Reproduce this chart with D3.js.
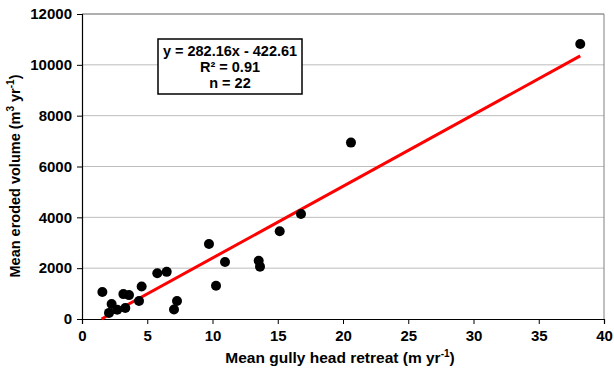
<!DOCTYPE html>
<html>
<head>
<meta charset="utf-8">
<script src="https://cdn.jsdelivr.net/npm/d3@7"></script>
<style>
  body { margin: 0; background: #fff; }
  svg text { font-family: Arial, "Liberation Sans", sans-serif; font-weight: bold; }
</style>
</head>
<body>
<div id="chart"></div>
<script>
// gully head retreat (m/yr) vs eroded volume (m3/yr)
var retreat = [1.56, 2.07, 2.27, 2.7, 3.17, 3.32, 3.6, 4.37, 4.57, 5.77, 6.49,
               7.05, 7.28, 9.73, 10.27, 10.96, 13.54, 13.64, 15.15, 16.78, 20.61, 38.18];
var volume  = [1060, 240, 590, 365, 980, 430, 940, 705, 1280, 1800, 1855,
               375, 705, 2950, 1305, 2245, 2295, 2060, 3450, 4130, 6940, 10820];
var xTicks = [0, 5, 10, 15, 20, 25, 30, 35, 40];
var yTicks = [0, 2000, 4000, 6000, 8000, 10000, 12000];
var slope = 282.16, intercept = -422.61;
var statLines = ["y = 282.16x - 422.61", "R² = 0.91", "n = 22"];

var W = 614, H = 373;
var margin = {top: 14, right: 10, bottom: 54, left: 82},
    width = W - margin.left - margin.right,
    height = H - margin.top - margin.bottom;

var svg = d3.select("#chart").append("svg")
    .attr("width", W)
    .attr("height", H)
    .append("g")
    .attr("transform", "translate(" + margin.left + "," + margin.top + ")");

var x = d3.scaleLinear().domain([0, 40]).range([0, width]);
var y = d3.scaleLinear().domain([0, 12000]).range([height, 0]);

// gridlines
svg.append("g").selectAll("line")
    .data(yTicks.slice(1))
    .enter().append("line")
    .attr("x1", 0).attr("x2", width)
    .attr("y1", function (d) { return y(d); })
    .attr("y2", function (d) { return y(d); })
    .attr("stroke", "#bdbdbd")
    .attr("stroke-width", 1);

// plot frame (top/right)
svg.append("path")
    .attr("d", "M0,0H" + width + "V" + height)
    .attr("fill", "none")
    .attr("stroke", "#808080")
    .attr("stroke-width", 1);

// axes
var xAxis = svg.append("g")
    .attr("transform", "translate(0," + height + ")")
    .call(d3.axisBottom(x).tickValues(xTicks).tickSize(5).tickPadding(6));
var yAxis = svg.append("g")
    .call(d3.axisLeft(y).tickValues(yTicks).tickSize(5).tickPadding(5).tickFormat(d3.format("d")));
[xAxis, yAxis].forEach(function (a) {
    a.select(".domain").attr("stroke", "#000").attr("stroke-width", 1.2);
    a.selectAll(".tick line").attr("stroke", "#000");
    a.selectAll("text")
        .attr("fill", "#000")
        .style("font-size", "15px")
        .style("font-family", "Arial, 'Liberation Sans', sans-serif")
        .style("font-weight", "bold");
});

// regression line
var xMin = -intercept / slope, xMax = d3.max(retreat);
svg.append("line")
    .attr("x1", x(xMin)).attr("y1", y(slope * xMin + intercept))
    .attr("x2", x(xMax)).attr("y2", y(slope * xMax + intercept))
    .attr("stroke", "#ff0000")
    .attr("stroke-width", 3);

// points
svg.append("g").selectAll("circle")
    .data(retreat)
    .enter().append("circle")
    .attr("cx", function (d) { return x(d); })
    .attr("cy", function (d, i) { return y(volume[i]); })
    .attr("r", 5)
    .attr("fill", "#000");

// stats box
var box = svg.append("g").attr("transform", "translate(" + (158 - margin.left) + "," + (39 - margin.top) + ")");
box.append("rect")
    .attr("width", 144).attr("height", 55)
    .attr("fill", "#fff")
    .attr("stroke", "#000")
    .attr("stroke-width", 1.5);
box.selectAll("text")
    .data(statLines)
    .enter().append("text")
    .attr("x", 72)
    .attr("y", function (d, i) { return 16.5 + i * 16; })
    .attr("text-anchor", "middle")
    .style("font-size", "14.5px")
    .text(function (d) { return d; });

// axis titles
var xt = svg.append("text")
    .attr("x", width / 2 - 3)
    .attr("y", height + 44)
    .attr("text-anchor", "middle")
    .style("font-size", "15.5px");
xt.append("tspan").text("Mean gully head retreat (m yr");
xt.append("tspan").attr("dy", -6).style("font-size", "10px").text("-1");
xt.append("tspan").attr("dy", 6).text(")");

var yt = svg.append("text")
    .attr("transform", "rotate(-90)")
    .attr("x", -162)
    .attr("y", -62)
    .attr("text-anchor", "middle")
    .style("font-size", "14.5px");
yt.append("tspan").text("Mean eroded volume (m");
yt.append("tspan").attr("dy", -6).style("font-size", "10px").text("3");
yt.append("tspan").attr("dy", 6).text(" yr");
yt.append("tspan").attr("dy", -6).style("font-size", "10px").text("-1");
yt.append("tspan").attr("dy", 6).text(")");
</script>
</body>
</html>
